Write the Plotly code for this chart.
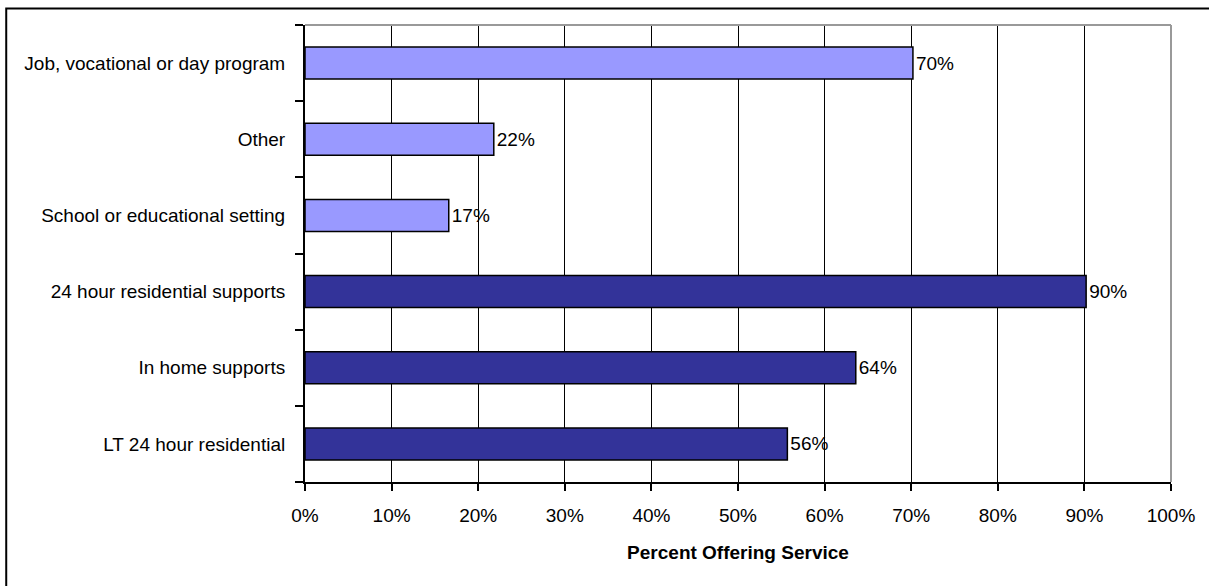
import plotly.graph_objects as go

# Service categories, listed bottom to top as drawn
categories = [
    "LT 24 hour residential",
    "In home supports",
    "24 hour residential supports",
    "School or educational setting",
    "Other",
    "Job, vocational or day program",
]
# Share of providers offering each service
share = [0.557, 0.636, 0.902, 0.166, 0.218, 0.702]
# Residential services in dark blue, day/other services in light violet
bar_colors = ["#333399", "#333399", "#333399", "#9999FF", "#9999FF", "#9999FF"]
x_ticks = [0, 0.1, 0.2, 0.3, 0.4, 0.5, 0.6, 0.7, 0.8, 0.9, 1.0]

FONT = "Liberation Sans, Arial, sans-serif"
SIZE = 19

fig = go.Figure(
    go.Bar(
        y=categories,
        x=share,
        orientation="h",
        width=0.42,
        marker=dict(color=bar_colors, line=dict(color="#000000", width=1.5)),
        texttemplate="%{x:.0%}",
        textposition="outside",
        textfont=dict(family=FONT, size=SIZE, color="#000000"),
        cliponaxis=False,
    )
)

fig.update_layout(
    width=1209,
    height=586,
    margin=dict(l=305, r=38, t=25, b=104),
    paper_bgcolor="#FFFFFF",
    plot_bgcolor="#FFFFFF",
    font=dict(family=FONT, size=SIZE, color="#000000"),
    showlegend=False,
    xaxis=dict(
        range=[0, 1],
        tickvals=x_ticks,
        tickformat=".0%",
        showgrid=True,
        gridcolor="#000000",
        gridwidth=1,
        zeroline=False,
        showline=True,
        linecolor="#000000",
        linewidth=2,
        ticks="outside",
        ticklen=7,
        tickwidth=1.5,
        tickcolor="#000000",
        ticklabelstandoff=8,
        title=dict(
            text="<b>Percent Offering Service</b>",
            font=dict(family=FONT, size=SIZE, color="#000000"),
            standoff=21,
        ),
    ),
    yaxis=dict(
        categoryorder="array",
        categoryarray=categories,
        showgrid=False,
        showline=True,
        linecolor="#000000",
        linewidth=2,
        ticks="outside",
        tickson="boundaries",
        ticklen=8,
        tickwidth=1.5,
        tickcolor="#000000",
        ticklabelstandoff=14,
    ),
    shapes=[
        # plot area frame on the top and right
        dict(type="line", xref="paper", yref="paper", x0=0, x1=1, y0=1, y1=1,
             line=dict(color="#999999", width=2), layer="above"),
        dict(type="line", xref="paper", yref="paper", x0=1, x1=1, y0=0, y1=1,
             line=dict(color="#999999", width=2), layer="above"),
        # outer chart border
        dict(type="rect", xref="paper", yref="paper",
             x0=-0.345, x1=1.1, y0=-0.3, y1=1.036,
             line=dict(color="#000000", width=2), layer="above"),
    ],
)

fig.write_html("out.html")
